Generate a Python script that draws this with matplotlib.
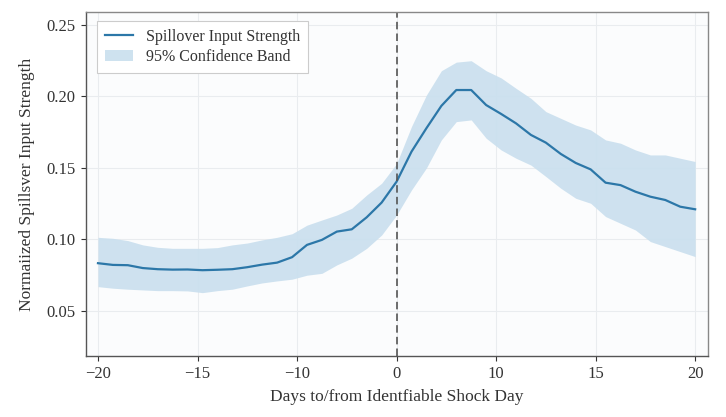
import matplotlib
matplotlib.use('Agg')
import matplotlib.pyplot as plt
import numpy as np

# Days relative to shock (axis positions)
days = np.arange(-20, 21)

# Spillover input strength (mean)
strength = [0.0834, 0.0822, 0.0820, 0.0800, 0.0792, 0.0789, 0.0790, 0.0785, 0.0788, 0.0792,
            0.0806, 0.0824, 0.0838, 0.0876, 0.0962, 0.0997, 0.1055, 0.1071, 0.1155, 0.1258,
            0.1404, 0.1614, 0.1778, 0.1934, 0.2045, 0.2045, 0.1940, 0.1878, 0.1812, 0.1731,
            0.1677, 0.1598, 0.1535, 0.1490, 0.1397, 0.1380, 0.1334, 0.1299, 0.1276, 0.1229,
            0.1211]

# 95% confidence band
band_upper = [0.1015, 0.1008, 0.0992, 0.0962, 0.0945, 0.0938, 0.0938, 0.0938, 0.0943, 0.0962,
              0.0975, 0.0997, 0.1015, 0.1040, 0.1100, 0.1136, 0.1171, 0.1218, 0.1311, 0.1393,
              0.1530, 0.1790, 0.2010, 0.2180, 0.2240, 0.2250, 0.2180, 0.2130, 0.2057, 0.1987,
              0.1894, 0.1847, 0.1800, 0.1766, 0.1696, 0.1673, 0.1626, 0.1591, 0.1591, 0.1568,
              0.1545]
band_lower = [0.0670, 0.0659, 0.0652, 0.0647, 0.0642, 0.0642, 0.0640, 0.0628, 0.0642, 0.0652,
              0.0675, 0.0696, 0.0710, 0.0722, 0.0750, 0.0763, 0.0822, 0.0869, 0.0938, 0.1031,
              0.1170, 0.1346, 0.1500, 0.1696, 0.1824, 0.1836, 0.1708, 0.1626, 0.1568, 0.1520,
              0.1440, 0.1358, 0.1288, 0.1253, 0.1160, 0.1113, 0.1066, 0.0985, 0.0950, 0.0915,
              0.0880]

# Tick labels as printed on the axis (evenly spaced)
xtick_labels = ['\u221220', '\u221215', '\u221210', '0', '10', '15', '20']
ytick_values = [0.05, 0.10, 0.15, 0.20, 0.25]

plt.rcParams['font.family'] = ['Liberation Serif', 'DejaVu Serif']

fig = plt.figure(figsize=(7.26, 4.17), dpi=100, facecolor='white')
ax = fig.add_axes([0.1185, 0.1463, 0.8565, 0.8247])
ax.set_facecolor('#fbfcfd')

ax.fill_between(days, band_lower, band_upper, color='#c9dfee', alpha=0.9,
                linewidth=0, label='95% Confidence Band')
ax.plot(days, strength, color='#2c77a8', linewidth=1.6, label='Spillover Input Strength')
ax.axvline(0, color='#555555', linestyle='--', linewidth=1.2, dashes=(4.5, 2.5))

ax.set_xlim(-20.8, 20.85)
ax.set_ylim(0.0185, 0.259)
ax.set_xticks(np.linspace(-20, 20, len(xtick_labels)))
ax.set_xticklabels(xtick_labels)
ax.set_yticks(ytick_values)
ax.set_yticklabels([f'{v:.2f}' for v in ytick_values])
ax.tick_params(labelsize=12, colors='#333333', length=3.5, width=0.8, pad=4)

ax.grid(True, color='#e9ecef', linewidth=0.8)
ax.set_axisbelow(True)
for side in ['left', 'bottom']:
    ax.spines[side].set_color('#555555')
    ax.spines[side].set_linewidth(1.0)
for side in ['top', 'right']:
    ax.spines[side].set_color('#888888')
    ax.spines[side].set_linewidth(1.0)

ax.set_xlabel('Days to/from Identfiable Shock Day', fontsize=12.5, color='#333333', labelpad=5)
ax.set_ylabel('Normaiized Spillsver Input Strength', fontsize=12.5, color='#333333', labelpad=8)

handles, labels = ax.get_legend_handles_labels()
leg = ax.legend(handles[::-1], labels[::-1], loc='upper left', fontsize=11.5,
                frameon=True, fancybox=False, edgecolor='#cccccc', framealpha=1.0,
                borderpad=0.5, handlelength=1.8, labelspacing=0.25, borderaxespad=0,
                bbox_to_anchor=(0.017, 0.974))
leg.get_frame().set_linewidth(0.8)
for t in leg.get_texts():
    t.set_color('#333333')

plt.savefig('out.png', dpi=100, facecolor='white')
plt.close()
